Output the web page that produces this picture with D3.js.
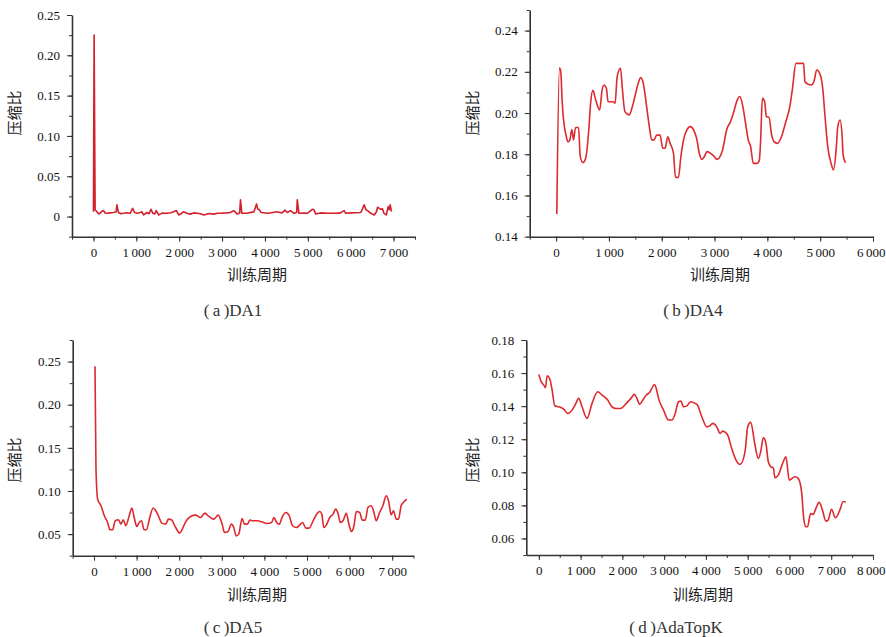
<!DOCTYPE html>
<html>
<head>
<meta charset="utf-8">
<script src="https://cdn.jsdelivr.net/npm/d3@7"></script>
<style>
  body { margin: 0; background: #fff; }
  svg { display: block; }
  .tick text { font-family: "Liberation Serif", "DejaVu Serif", serif; font-size: 13px; fill: #111; }
  .domain, .tick line { stroke: #333; }
  .cn { font-family: "Noto Sans CJK SC", sans-serif; font-size: 15px; fill: #222; }
  .cap { font-family: "Liberation Serif", serif; font-size: 17px; fill: #333; }
</style>
</head>
<body>
<svg id="canvas" width="886" height="637"></svg>
<script>
const svg = d3.select("#canvas");

// (a) DA1
const da1Epochs = [0, 16, 39, 78, 117, 156, 195, 234, 273, 312, 390, 468, 530, 546, 584, 640, 701, 780, 857, 912, 959, 1020, 1091, 1130, 1169, 1247, 1300, 1341, 1388, 1430, 1465, 1520, 1600, 1714, 1800, 1871, 1933, 1988, 2050, 2104, 2180, 2260, 2340, 2416, 2500, 2572, 2700, 2806, 2900, 2962, 3100, 3195, 3273, 3351, 3410, 3430, 3461, 3585, 3700, 3741, 3804, 3830, 3858, 3913, 4053, 4150, 4287, 4400, 4466, 4520, 4598, 4676, 4740, 4754, 4793, 4900, 4988, 5105, 5144, 5183, 5300, 5456, 5612, 5750, 5846, 5885, 6000, 6236, 6315, 6350, 6393, 6471, 6549, 6600, 6627, 6699, 6740, 6777, 6832, 6875, 6900, 6921, 6953];
const da1Ratio = [0.006, 0.2252, 0.0083, 0.0062, 0.0035, 0.004, 0.0065, 0.0074, 0.0045, 0.004, 0.0045, 0.005, 0.006, 0.0145, 0.005, 0.0035, 0.004, 0.0048, 0.004, 0.0103, 0.005, 0.0042, 0.005, 0.0058, 0.002, 0.005, 0.0035, 0.009, 0.004, 0.0032, 0.0074, 0.002, 0.0042, 0.004, 0.0048, 0.006, 0.0074, 0.002, 0.0038, 0.006, 0.0042, 0.003, 0.0045, 0.004, 0.0035, 0.002, 0.0038, 0.003, 0.004, 0.004, 0.0045, 0.005, 0.0074, 0.0033, 0.0045, 0.0207, 0.004, 0.004, 0.0055, 0.0057, 0.0157, 0.0095, 0.009, 0.005, 0.004, 0.0048, 0.006, 0.0045, 0.008, 0.005, 0.0074, 0.004, 0.005, 0.0207, 0.004, 0.0042, 0.004, 0.009, 0.0083, 0.0033, 0.0045, 0.004, 0.004, 0.0042, 0.0074, 0.004, 0.0045, 0.005, 0.0145, 0.009, 0.0074, 0.004, 0.002, 0.006, 0.0116, 0.009, 0.0095, 0.004, 0.002, 0.0124, 0.0085, 0.0145, 0.006];

// (b) DA4
const da4Epochs = [13, 64, 89, 114, 140, 190, 222, 260, 298, 330, 368, 425, 457, 508, 559, 622, 654, 698, 743, 825, 870, 908, 952, 984, 1079, 1117, 1156, 1219, 1257, 1302, 1384, 1460, 1537, 1600, 1651, 1714, 1765, 1810, 1854, 1905, 1968, 2019, 2063, 2114, 2159, 2222, 2260, 2317, 2362, 2413, 2476, 2540, 2603, 2667, 2711, 2762, 2806, 2857, 2921, 2984, 3048, 3143, 3238, 3302, 3365, 3429, 3479, 3536, 3587, 3638, 3683, 3733, 3810, 3848, 3873, 3905, 3949, 3981, 4032, 4076, 4127, 4190, 4267, 4349, 4425, 4476, 4540, 4686, 4711, 4762, 4838, 4889, 4933, 5003, 5048, 5092, 5143, 5206, 5251, 5302, 5333, 5378, 5416, 5435, 5479];
const da4Ratio = [0.151, 0.222, 0.220, 0.206, 0.197, 0.189, 0.186, 0.187, 0.192, 0.187, 0.193, 0.193, 0.179, 0.176, 0.178, 0.193, 0.205, 0.211, 0.207, 0.2015, 0.211, 0.2136, 0.212, 0.2055, 0.2055, 0.2047, 0.2177, 0.2217, 0.211, 0.2007, 0.1991, 0.2047, 0.2128, 0.2172, 0.2144, 0.2031, 0.1934, 0.187, 0.187, 0.1893, 0.1893, 0.1829, 0.1829, 0.1885, 0.1853, 0.1805, 0.1688, 0.1688, 0.1788, 0.187, 0.1918, 0.1934, 0.1918, 0.187, 0.1805, 0.1775, 0.1788, 0.1813, 0.1805, 0.1792, 0.1775, 0.1813, 0.1926, 0.1958, 0.2007, 0.2063, 0.208, 0.2031, 0.195, 0.187, 0.1837, 0.1756, 0.1756, 0.1772, 0.187, 0.2071, 0.2055, 0.1982, 0.1979, 0.190, 0.1861, 0.1853, 0.1885, 0.1958, 0.2031, 0.212, 0.2241, 0.2241, 0.2152, 0.2141, 0.2136, 0.216, 0.2209, 0.2185, 0.212, 0.1982, 0.1837, 0.1756, 0.1724, 0.1821, 0.1934, 0.1966, 0.1885, 0.1796, 0.1759];

// (c) DA5
const da5Epochs = [23, 47, 86, 164, 242, 320, 374, 436, 499, 577, 631, 686, 748, 826, 889, 943, 1005, 1060, 1115, 1177, 1231, 1309, 1387, 1450, 1512, 1590, 1684, 1746, 1816, 1917, 2011, 2073, 2151, 2268, 2385, 2502, 2603, 2697, 2814, 2915, 3009, 3063, 3141, 3227, 3281, 3336, 3398, 3476, 3531, 3601, 3663, 3741, 3835, 3936, 4053, 4170, 4224, 4287, 4349, 4419, 4505, 4583, 4661, 4754, 4832, 4895, 4973, 5051, 5144, 5238, 5300, 5347, 5393, 5456, 5534, 5612, 5674, 5729, 5783, 5846, 5924, 5986, 6041, 6103, 6158, 6236, 6298, 6368, 6431, 6509, 6571, 6626, 6704, 6781, 6859, 6914, 6976, 7030, 7093, 7148, 7210, 7264, 7342];
const da5Ratio = [0.2446, 0.125, 0.0906, 0.0829, 0.0713, 0.0635, 0.055, 0.055, 0.0655, 0.0666, 0.0616, 0.0666, 0.0597, 0.0713, 0.0802, 0.0693, 0.0589, 0.0635, 0.0655, 0.055, 0.055, 0.0693, 0.0802, 0.0771, 0.0713, 0.0628, 0.0616, 0.0674, 0.0666, 0.0577, 0.0512, 0.0558, 0.0643, 0.0705, 0.072, 0.0693, 0.0744, 0.0705, 0.0674, 0.072, 0.0616, 0.0519, 0.0527, 0.0616, 0.0577, 0.048, 0.050, 0.0682, 0.0616, 0.0616, 0.0662, 0.0655, 0.0655, 0.0643, 0.0624, 0.0635, 0.0693, 0.0635, 0.0616, 0.0701, 0.0751, 0.0713, 0.0597, 0.0577, 0.0608, 0.0635, 0.057, 0.057, 0.0655, 0.074, 0.0763, 0.0732, 0.0577, 0.0608, 0.0693, 0.0732, 0.079, 0.074, 0.0635, 0.0655, 0.074, 0.0608, 0.0531, 0.0597, 0.0763, 0.0751, 0.0662, 0.0662, 0.081, 0.0829, 0.0751, 0.0655, 0.0751, 0.0829, 0.0945, 0.0887, 0.0724, 0.0771, 0.0674, 0.0674, 0.0829, 0.0868, 0.0906];

// (d) AdaTopK
const topkEpochs = [0, 56, 119, 159, 199, 263, 318, 382, 478, 597, 693, 796, 876, 955, 1035, 1154, 1274, 1409, 1513, 1648, 1752, 1847, 1951, 2094, 2205, 2285, 2349, 2412, 2492, 2572, 2651, 2771, 2811, 2866, 2986, 3105, 3185, 3264, 3344, 3400, 3463, 3543, 3639, 3742, 3798, 3901, 4021, 4100, 4164, 4260, 4339, 4403, 4514, 4618, 4721, 4817, 4936, 5000, 5072, 5175, 5255, 5311, 5374, 5430, 5494, 5557, 5613, 5653, 5732, 5852, 5916, 5995, 6131, 6210, 6290, 6346, 6393, 6433, 6505, 6568, 6632, 6712, 6791, 6871, 6927, 7006, 7102, 7205, 7285, 7349];
const topkRatio = [0.1592, 0.1548, 0.1527, 0.1511, 0.1584, 0.1564, 0.1497, 0.1402, 0.1396, 0.1382, 0.1356, 0.1376, 0.1411, 0.1447, 0.1396, 0.1326, 0.1417, 0.1487, 0.1467, 0.1437, 0.1396, 0.1386, 0.1386, 0.1417, 0.1447, 0.1471, 0.1447, 0.1411, 0.1437, 0.1467, 0.1483, 0.1531, 0.1507, 0.1447, 0.1376, 0.1316, 0.1316, 0.1356, 0.1427, 0.1431, 0.1396, 0.1402, 0.1427, 0.1417, 0.1407, 0.1336, 0.1275, 0.1282, 0.1296, 0.1275, 0.1235, 0.1249, 0.1229, 0.1144, 0.1074, 0.1048, 0.1124, 0.1275, 0.1302, 0.1165, 0.1084, 0.1124, 0.1209, 0.1185, 0.1064, 0.1033, 0.1027, 0.0967, 0.0983, 0.1064, 0.1094, 0.0953, 0.0973, 0.0963, 0.0882, 0.0711, 0.0671, 0.0671, 0.0751, 0.0745, 0.0781, 0.0818, 0.0771, 0.0705, 0.0711, 0.0777, 0.0725, 0.0771, 0.0822, 0.0822];

// tick values
const xTicks7000 = [0, 1000, 2000, 3000, 4000, 5000, 6000, 7000];
const xTicks6000 = [0, 1000, 2000, 3000, 4000, 5000, 6000];
const xTicks8000 = [0, 1000, 2000, 3000, 4000, 5000, 6000, 7000, 8000];
const yTicksA = [0, 0.05, 0.10, 0.15, 0.20, 0.25];
const yTicksB = [0.14, 0.16, 0.18, 0.20, 0.22, 0.24];
const yTicksC = [0.05, 0.10, 0.15, 0.20, 0.25];
const yTicksD = [0.06, 0.08, 0.10, 0.12, 0.14, 0.16, 0.18];

const captions = ["(\u2009a\u2009)DA1", "(\u2009b\u2009)DA4", "(\u2009c\u2009)DA5", "(\u2009d\u2009)AdaTopK"];
const yTitle = "压缩比";
const xTitle = "训练周期";

const fmtX = d => d === 0 ? "0" : d3.format(",")(d).replace(",", "\u2009");
const fmtY = d => d === 0 ? "0" : d3.format(".2f")(d);

const range = (a, b, s) => d3.range(a, b + s / 2, s);

const panels = [
  { xs: da1Epochs, ys: da1Ratio, xDom: [-500, 7500], yDom: [-0.025, 0.25], left: 72, right: 415, top: 15, bottom: 236.7,
    xT: xTicks7000, xMinor: range(-500, 7500, 500), yT: yTicksA, yMinor: range(-0.025, 0.25, 0.025),
    curve: d3.curveLinear, color: "#d4202a", cap: captions[0], capX: 233, capY: 316, xlX: 257, xlY: 280, ylX: 15, ylY: 113 },
  { xs: da4Epochs, ys: da4Ratio, xDom: [-500, 6000], yDom: [0.14, 0.25], left: 529.7, right: 873, top: 10, bottom: 236.7,
    xT: xTicks6000, xMinor: range(-500, 6000, 500), yT: yTicksB, yMinor: range(0.14, 0.25, 0.01),
    curve: d3.curveMonotoneX, color: "#dc2a2e", cap: captions[1], capX: 693, capY: 316, xlX: 720, xlY: 280, ylX: 473, ylY: 113 },
  { xs: da5Epochs, ys: da5Ratio, xDom: [-500, 7500], yDom: [0.025, 0.275], left: 72.7, right: 413.5, top: 340, bottom: 555.7,
    xT: xTicks7000, xMinor: range(-500, 7500, 500), yT: yTicksC, yMinor: range(0.025, 0.275, 0.025),
    curve: d3.curveMonotoneX, color: "#dc2a2e", cap: captions[2], capX: 233, capY: 633, xlX: 257, xlY: 600, ylX: 15, ylY: 460 },
  { xs: topkEpochs, ys: topkRatio, xDom: [-300, 8000], yDom: [0.05, 0.18], left: 526.3, right: 873, top: 340, bottom: 555,
    xT: xTicks8000, xMinor: range(0, 8000, 500), yT: yTicksD, yMinor: range(0.05, 0.18, 0.01),
    curve: d3.curveMonotoneX, color: "#dc2a2e", cap: captions[3], capX: 676, capY: 633, xlX: 703, xlY: 600, ylX: 473, ylY: 460 }
];

const W = 886;

panels.forEach(p => {
  const x = d3.scaleLinear().domain(p.xDom).range([p.left, p.right]);
  const y = d3.scaleLinear().domain(p.yDom).range([p.bottom, p.top]);
  const g = svg.append("g");

  // minor ticks
  g.append("g").attr("transform", `translate(0,${p.bottom})`)
    .call(d3.axisBottom(x).tickValues(p.xMinor).tickSize(3).tickFormat(""))
    .call(a => a.select(".domain").remove());
  g.append("g").attr("transform", `translate(${p.left},0)`)
    .call(d3.axisLeft(y).tickValues(p.yMinor).tickSize(3).tickFormat(""))
    .call(a => a.select(".domain").remove());

  // major axes
  const xAx = g.append("g").attr("transform", `translate(0,${p.bottom})`)
    .call(d3.axisBottom(x).tickValues(p.xT).tickSize(5).tickSizeOuter(0).tickPadding(6).tickFormat(fmtX));
  xAx.select(".domain").attr("stroke-width", 1.6);
  // keep the last label inside the page
  xAx.selectAll(".tick text").each(function() {
    const b = this.getBBox();
    const px = x(d3.select(this.parentNode).datum());
    const over = px + b.x + b.width - (W - 1);
    if (over > 0) d3.select(this).attr("x", -over);
  });

  g.append("g").attr("transform", `translate(${p.left},0)`)
    .call(d3.axisLeft(y).tickValues(p.yT).tickSize(5).tickSizeOuter(0).tickPadding(7).tickFormat(fmtY))
    .call(a => a.select(".domain").attr("stroke-width", 1.6));

  const pts = p.xs.map((v, i) => [v, p.ys[i]]);
  const line = d3.line().x(d => x(d[0])).y(d => y(d[1])).curve(p.curve);
  g.append("path").datum(pts)
    .attr("d", line)
    .attr("fill", "none")
    .attr("stroke", p.color)
    .attr("stroke-width", 1.6)
    .attr("stroke-linejoin", "round");

  g.append("text").attr("class", "cn")
    .attr("transform", `translate(${p.ylX},${p.ylY}) rotate(-90)`)
    .attr("text-anchor", "middle").attr("dy", "0.35em")
    .text(yTitle);
  g.append("text").attr("class", "cn")
    .attr("x", p.xlX).attr("y", p.xlY)
    .attr("text-anchor", "middle")
    .text(xTitle);
  g.append("text").attr("class", "cap")
    .attr("x", p.capX).attr("y", p.capY)
    .attr("text-anchor", "middle")
    .text(p.cap);
});
</script>
</body>
</html>
